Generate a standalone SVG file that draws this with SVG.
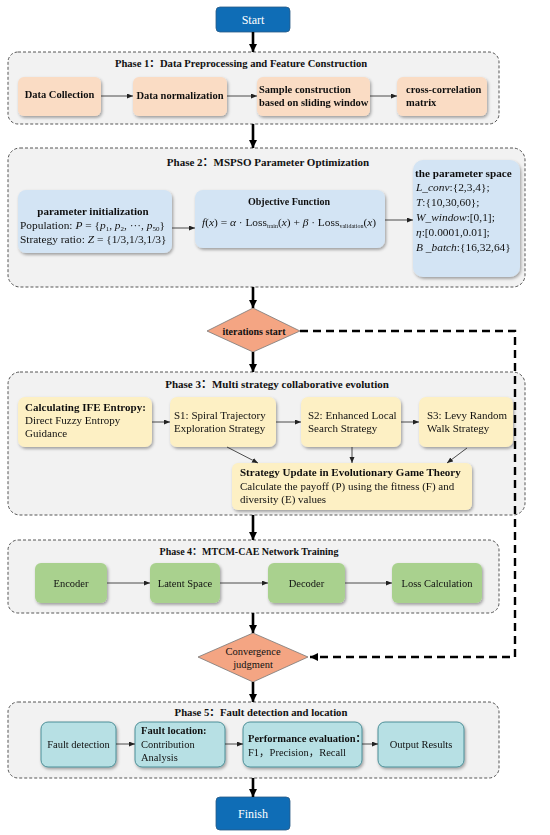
<svg xmlns="http://www.w3.org/2000/svg" width="550" height="835" viewBox="0 0 550 835">
<defs>
<style>
text{font-family:"Liberation Serif","Noto Sans CJK SC",serif;fill:#111;}
.t{font-size:10.5px;}
.t3{font-size:11px;}
.tp{font-size:11.4px;}
.b{font-weight:bold;}
.ph{font-weight:bold;}
.i{font-style:italic;}
.phase{fill:#f2f2f2;stroke:#444;stroke-width:0.9;stroke-dasharray:3 2;}
.term{fill:#0f6db6;stroke:#2a5a85;stroke-width:0.8;}
.term-t{fill:#fff;font-size:12px;}
.peach{fill:#fadcc4;}
.blue{fill:#d3e4f4;}
.yel{fill:#fdf0c4;}
.grn{fill:#a9d18e;}
.teal{fill:#b7e0e4;stroke:#3f8790;stroke-width:0.9;}
.dia{fill:#f4a583;stroke:#777;stroke-width:0.8;}
.thick{stroke:#000;stroke-width:2.6;fill:none;}
.thin{stroke:#222;stroke-width:0.8;fill:none;}
.dash{stroke:#000;stroke-width:2.4;fill:none;stroke-dasharray:8 5;}
</style>
<filter id="sh" x="-10%" y="-15%" width="125%" height="140%">
<feDropShadow dx="1.2" dy="1.8" stdDeviation="1.4" flood-color="#000" flood-opacity="0.35"/>
</filter>
<marker id="ab" markerUnits="userSpaceOnUse" markerWidth="9" markerHeight="9" refX="8" refY="4" orient="auto">
<path d="M0,0 L8,4 L0,8 z" fill="#000"/>
</marker>
<marker id="as" markerUnits="userSpaceOnUse" markerWidth="7" markerHeight="6" refX="6" refY="2.5" orient="auto">
<path d="M0,0 L6,2.5 L0,5 z" fill="#222"/>
</marker>
</defs>

<!-- phase containers -->
<g id="phase1"><rect class="phase" x="8" y="52" width="491" height="72" rx="10"/>
<text class="ph" font-size="10.6" x="241" y="67" text-anchor="middle">Phase 1：Data Preprocessing and Feature Construction</text></g>
<g id="phase2"><rect class="phase" x="8" y="148" width="517" height="139" rx="12"/>
<text class="ph" font-size="11" x="268" y="166" text-anchor="middle">Phase 2：MSPSO Parameter Optimization</text></g>
<g id="phase3"><rect class="phase" x="8" y="372" width="517" height="143" rx="12"/>
<text class="ph" font-size="11" x="277" y="388" text-anchor="middle">Phase 3：Multi strategy collaborative evolution</text></g>
<g id="phase4"><rect class="phase" x="8" y="540" width="491" height="73" rx="10"/>
<text class="ph" font-size="10" x="249" y="555" text-anchor="middle">Phase 4：MTCM-CAE Network Training</text></g>
<g id="phase5"><rect class="phase" x="8" y="702" width="491" height="76" rx="10"/>
<text class="ph" font-size="10.7" x="261" y="716" text-anchor="middle">Phase 5：Fault detection and location</text></g>

<!-- terminals -->
<g id="start"><rect class="term" x="216" y="7" width="74" height="25" rx="4"/>
<text class="term-t" x="253" y="24" text-anchor="middle">Start</text></g>
<g id="finish"><rect class="term" x="216" y="797" width="74" height="33" rx="4"/>
<text class="term-t" x="253" y="818" text-anchor="middle">Finish</text></g>

<!-- phase 1 nodes -->
<g id="data-collection" filter="url(#sh)"><rect class="peach" x="18" y="77" width="83" height="39" rx="6"/>
<text class="t b" x="59.5" y="98" text-anchor="middle">Data Collection</text></g>
<g id="data-normalization" filter="url(#sh)"><rect class="peach" x="133" y="77" width="94" height="39" rx="6"/>
<text class="t b" x="180" y="99" text-anchor="middle">Data normalization</text></g>
<g id="sample-construction" filter="url(#sh)"><rect class="peach" x="257" y="77" width="113" height="39" rx="6"/>
<text class="t b" x="259" y="93">Sample construction</text>
<text class="t b" x="259" y="106">based on sliding window</text></g>
<g id="cross-correlation" filter="url(#sh)"><rect class="peach" x="397" y="77" width="90" height="39" rx="6"/>
<text class="t b" x="406" y="93">cross-correlation</text>
<text class="t b" x="406" y="106">matrix</text></g>

<!-- phase 2 nodes -->
<g id="param-init" filter="url(#sh)"><rect class="blue" x="18" y="190" width="154" height="63" rx="8"/>
<text class="b" font-size="11" x="93" y="215" text-anchor="middle">parameter initialization</text>
<text class="tp" x="20" y="229">Population: <tspan class="i">P</tspan> = {<tspan class="i">p</tspan><tspan font-size="7" dy="2">1</tspan><tspan dy="-2">, </tspan><tspan class="i">p</tspan><tspan font-size="7" dy="2">2</tspan><tspan dy="-2">, ···, </tspan><tspan class="i">p</tspan><tspan font-size="7" dy="2">50</tspan><tspan dy="-2">}</tspan></text>
<text class="tp" x="20" y="243">Strategy ratio: <tspan class="i">Z</tspan> = {1/3,1/3,1/3}</text></g>
<g id="objective" filter="url(#sh)"><rect class="blue" x="195" y="190" width="190" height="58" rx="8"/>
<text class="b" font-size="10" x="289" y="205" text-anchor="middle">Objective Function</text>
<text class="tp" x="289" y="226" text-anchor="middle"><tspan class="i">f</tspan>(<tspan class="i">x</tspan>) = <tspan class="i">α</tspan> · Loss<tspan font-size="6" dy="2">train</tspan><tspan dy="-2">(</tspan><tspan class="i">x</tspan>) + <tspan class="i">β</tspan> · Loss<tspan font-size="6" dy="2">validation</tspan><tspan dy="-2">(</tspan><tspan class="i">x</tspan>)</text></g>
<g id="param-space" filter="url(#sh)"><rect class="blue" x="413" y="160" width="107" height="117" rx="10"/>
<text class="b" font-size="11.2" x="415" y="177">the parameter space</text>
<text class="tp" x="416" y="191"><tspan class="i">L_conv</tspan>:{2,3,4};</text>
<text class="tp" x="416" y="206"><tspan class="i">T</tspan>:{10,30,60};</text>
<text class="tp" x="416" y="221"><tspan class="i">W_window</tspan>:[0,1];</text>
<text class="tp" x="416" y="236"><tspan class="i">η</tspan>:[0.0001,0.01];</text>
<text class="tp" x="416" y="251"><tspan class="i">B _batch</tspan>:{16,32,64}</text></g>

<!-- decisions -->
<g id="iterations-start"><polygon class="dia" points="253,308 300,331 253,352 207,331"/>
<text class="b" font-size="10" x="254" y="334.5" text-anchor="middle">iterations start</text></g>
<g id="convergence"><polygon class="dia" points="253,633 308,657 253,682 198,657"/>
<text class="t" x="253" y="655" text-anchor="middle">Convergence</text>
<text class="t" x="253" y="668" text-anchor="middle">judgment</text></g>

<!-- phase 3 nodes -->
<g id="ife" filter="url(#sh)"><rect class="yel" x="18" y="397" width="134" height="50" rx="7"/>
<text class="t3 b" x="25" y="411">Calculating IFE Entropy:</text>
<text class="t3" x="25" y="424">Direct Fuzzy Entropy</text>
<text class="t3" x="25" y="437">Guidance</text></g>
<g id="s1" filter="url(#sh)"><rect class="yel" x="170" y="397" width="106" height="50" rx="7"/>
<text class="t3" x="174" y="419">S1: Spiral Trajectory</text>
<text class="t3" x="174" y="432">Exploration Strategy</text></g>
<g id="s2" filter="url(#sh)"><rect class="yel" x="301" y="397" width="100" height="50" rx="7"/>
<text class="t3" x="308" y="419">S2: Enhanced Local</text>
<text class="t3" x="308" y="432">Search Strategy</text></g>
<g id="s3" filter="url(#sh)"><rect class="yel" x="419" y="397" width="94" height="50" rx="7"/>
<text class="t3" x="427" y="419">S3: Levy Random</text>
<text class="t3" x="427" y="432">Walk Strategy</text></g>
<g id="strategy-update" filter="url(#sh)"><rect class="yel" x="232" y="463" width="240" height="47" rx="6"/>
<text class="t3 b" x="240" y="476">Strategy Update in Evolutionary Game Theory</text>
<text class="t3" x="240" y="490">Calculate the payoff (P) using the fitness (F) and</text>
<text class="t3" x="240" y="503">diversity (E) values</text></g>

<!-- phase 4 nodes -->
<g id="encoder" filter="url(#sh)"><rect class="grn" x="35" y="563" width="72" height="40" rx="6"/>
<text class="t" x="71" y="586.5" text-anchor="middle">Encoder</text></g>
<g id="latent" filter="url(#sh)"><rect class="grn" x="150" y="563" width="70" height="40" rx="6"/>
<text class="t" x="185" y="586.5" text-anchor="middle">Latent Space</text></g>
<g id="decoder" filter="url(#sh)"><rect class="grn" x="268" y="563" width="77" height="40" rx="6"/>
<text class="t" x="306.5" y="586.5" text-anchor="middle">Decoder</text></g>
<g id="loss" filter="url(#sh)"><rect class="grn" x="392" y="563" width="90" height="40" rx="6"/>
<text class="t" x="437" y="587" text-anchor="middle">Loss Calculation</text></g>

<!-- phase 5 nodes -->
<g id="fault-detection" filter="url(#sh)"><rect class="teal" x="41" y="722" width="75" height="45" rx="7"/>
<text class="t" x="78.5" y="748" text-anchor="middle">Fault detection</text></g>
<g id="fault-location" filter="url(#sh)"><rect class="teal" x="135" y="722" width="90" height="45" rx="7"/>
<text class="t b" x="141" y="734">Fault location:</text>
<text class="t" x="141" y="748">Contribution</text>
<text class="t" x="141" y="761">Analysis</text></g>
<g id="performance" filter="url(#sh)"><rect class="teal" x="243" y="722" width="119" height="45" rx="7"/>
<text class="t b" x="248" y="742">Performance evaluation：</text>
<text class="t" x="248" y="756">F1，Precision，Recall</text></g>
<g id="output" filter="url(#sh)"><rect class="teal" x="378" y="722" width="86" height="45" rx="7"/>
<text class="t" x="421" y="748" text-anchor="middle">Output Results</text></g>

<!-- connectors -->
<g id="connectors">
<line class="thick" x1="253" y1="32" x2="253" y2="52" marker-end="url(#ab)"/>
<line class="thick" x1="253" y1="124" x2="253" y2="148" marker-end="url(#ab)"/>
<line class="thick" x1="253" y1="287" x2="253" y2="308" marker-end="url(#ab)"/>
<line class="thick" x1="253" y1="352" x2="253" y2="372" marker-end="url(#ab)"/>
<line class="thick" x1="253" y1="515" x2="253" y2="540" marker-end="url(#ab)"/>
<line class="thick" x1="253" y1="613" x2="253" y2="633" marker-end="url(#ab)"/>
<line class="thick" x1="253" y1="682" x2="253" y2="702" marker-end="url(#ab)"/>
<line class="thick" x1="253" y1="778" x2="253" y2="797" marker-end="url(#ab)"/>
<path class="dash" d="M300,331 H515 V657 H310" marker-end="url(#ab)"/>
<line class="thin" x1="101" y1="96" x2="133" y2="96" marker-end="url(#as)"/>
<line class="thin" x1="227" y1="96" x2="257" y2="96" marker-end="url(#as)"/>
<line class="thin" x1="370" y1="96" x2="397" y2="96" marker-end="url(#as)"/>
<line class="thin" x1="172" y1="228" x2="195" y2="228" marker-end="url(#as)"/>
<line class="thin" x1="385" y1="220" x2="413" y2="220" marker-end="url(#as)"/>
<line class="thin" x1="152" y1="422" x2="170" y2="422" marker-end="url(#as)"/>
<line class="thin" x1="276" y1="422" x2="301" y2="422" marker-end="url(#as)"/>
<line class="thin" x1="401" y1="422" x2="419" y2="422" marker-end="url(#as)"/>
<line class="thin" x1="227" y1="447" x2="258" y2="463" marker-end="url(#as)"/>
<line class="thin" x1="352" y1="447" x2="352" y2="463" marker-end="url(#as)"/>
<line class="thin" x1="467" y1="448" x2="447" y2="463" marker-end="url(#as)"/>
<line class="thin" x1="107" y1="583" x2="150" y2="583" marker-end="url(#as)"/>
<line class="thin" x1="220" y1="583" x2="268" y2="583" marker-end="url(#as)"/>
<line class="thin" x1="345" y1="583" x2="392" y2="583" marker-end="url(#as)"/>
<line class="thin" x1="116" y1="744" x2="135" y2="744" marker-end="url(#as)"/>
<line class="thin" x1="225" y1="744" x2="243" y2="744" marker-end="url(#as)"/>
<line class="thin" x1="362" y1="744" x2="378" y2="744" marker-end="url(#as)"/>
</g>
</svg>
